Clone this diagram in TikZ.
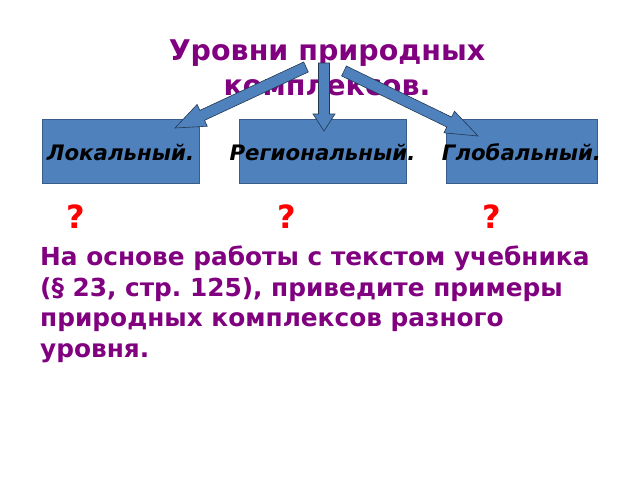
\documentclass[tikz,border=0pt]{standalone}
\usepackage{fontspec}
\setmainfont{DejaVu Sans}
\usetikzlibrary{calc,positioning}
\frenchspacing

\definecolor{slidepurple}{HTML}{800080}
\definecolor{boxblue}{HTML}{4F81BD}
\definecolor{boxline}{HTML}{385D8A}

%% block arrow from #1 (tail) to #2 (tip): half shaft #3, head length #4,
%% half head width #5
\newcommand{\blockarrow}[5]{%
  \filldraw[arrowbody]
    ($(#1)!#3!90:(#2)$) -- ($(#2)!#4!(#1)!#3!-90:(#1)$)
    -- ($(#2)!#4!(#1)!#5!-90:(#1)$) -- (#2)
    -- ($(#2)!#4!(#1)!#5!90:(#1)$) -- ($(#2)!#4!(#1)!#3!90:(#1)$)
    -- ($(#1)!#3!-90:(#2)$) -- cycle;}

\begin{document}
\begin{tikzpicture}[x=1pt,y=-1pt]
        \tikzset{levelbox/.style={draw=boxline,fill=boxblue,line width=0.8pt,
            minimum height=64pt,inner sep=0pt},
          levelname/.style={anchor=base,
            font=\fontsize{21.3}{24}\bfseries\itshape\selectfont},
          arrowbody/.style={draw=boxline!60!black,fill=boxblue,line width=0.6pt},
          askmark/.style={text=red,font=\fontsize{32}{36}\bfseries\selectfont}}

        \useasboundingbox (0,0) rectangle (640,480);

        %% Heading
        \node[text=slidepurple,align=center,
          font=\fontsize{28.5}{35}\bfseries\selectfont] (title) at (327,68)
          {Уровни природных\\комплексов.};

        %% The three levels; labels sit on top and may overhang the boxes
        \node[levelbox,minimum width=157pt] (local) at (120.5,151) {};
        \node[levelbox,minimum width=167pt] (regional) at (322.5,151) {};
        \node[levelbox,minimum width=151pt] (global) at (521.5,151) {};
        \node[levelname] (localtext) at ([yshift=-9pt]local.center) {Локальный.};
        \node[levelname] (regionaltext) at ([yshift=-9pt]regional.center) {Региональный.};
        \node[levelname] (globaltext) at ([yshift=-9pt]global.center) {Глобальный.};

        %% Arrow ends
        \coordinate (tailL) at (306,67);
        \coordinate (tailM) at (324,63);
        \coordinate (tailR) at (344,71);
        \coordinate (tipL) at (175,128);
        \coordinate (tipM) at (324,131);
        \coordinate (tipR) at (478,136);
        \blockarrow{tailL}{tipL}{5.5pt}{30pt}{12pt}
        \blockarrow{tailM}{tipM}{5.5pt}{17pt}{11pt}
        \blockarrow{tailR}{tipR}{5.5pt}{32pt}{12pt}

        %% Question marks under each box
        \node[askmark] (askL) at (76,217) {?};
        \node[askmark] (askM) at (287,217) {?};
        \node[askmark] (askR) at (492,217) {?};

        %% Task
        \node[text=slidepurple,align=left,anchor=north west,inner sep=0pt,
          font=\fontsize{24.8}{30.5}\bfseries\selectfont] (task) at (40,246)
          {На основе работы с текстом учебника\\(§ 23, стр. 125), приведите примеры\\природных комплексов разного\\уровня.};
      \end{tikzpicture}
\end{document}
